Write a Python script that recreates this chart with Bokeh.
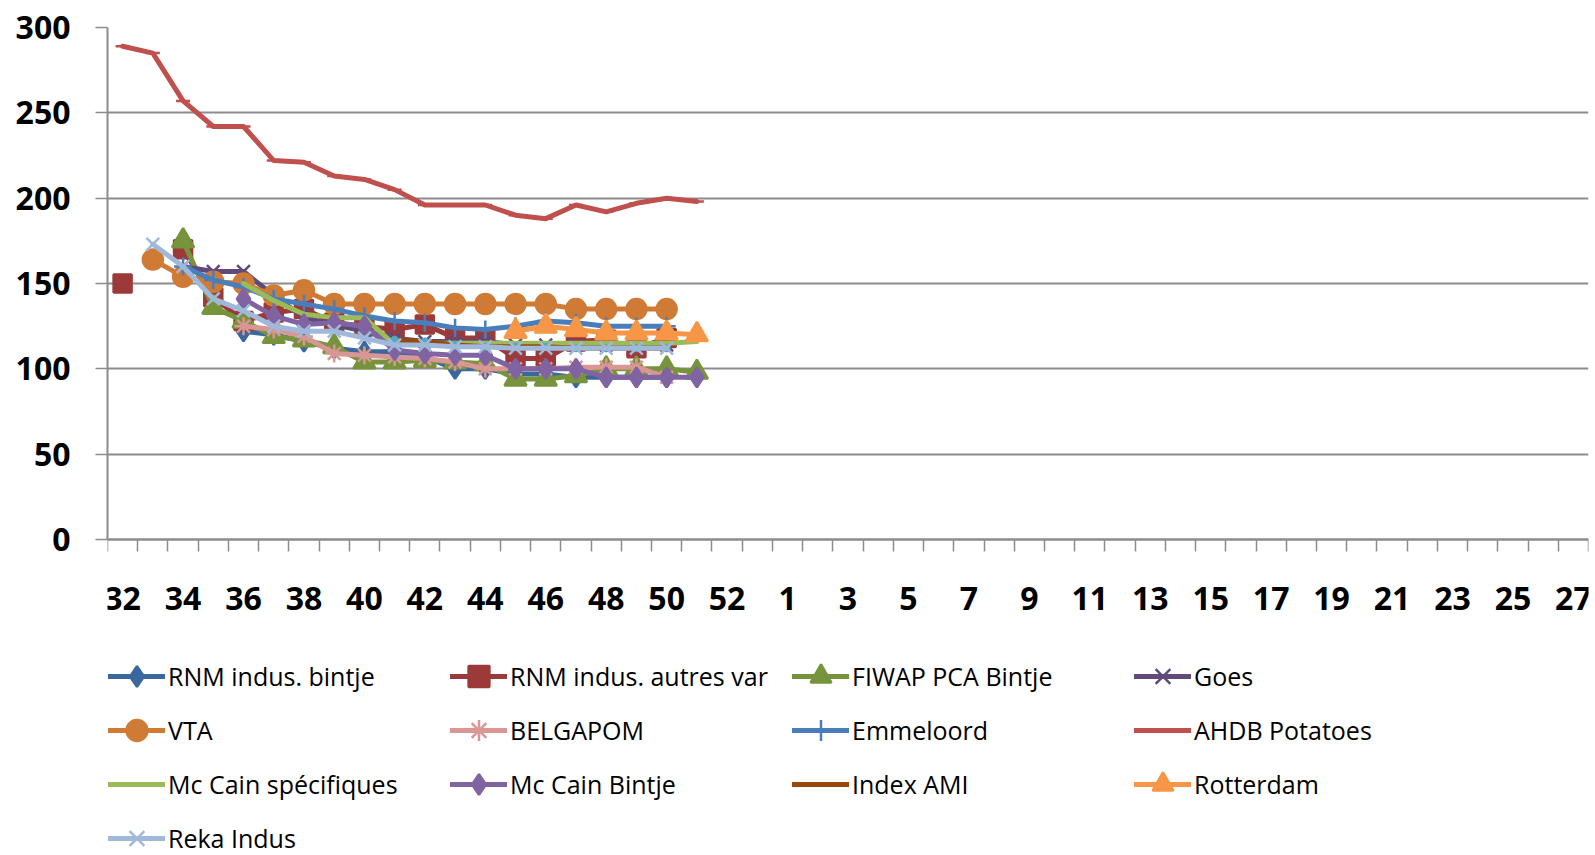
import math
from bokeh.plotting import figure
from bokeh.models import FixedTicker, Legend, LegendItem, Range1d
from bokeh.embed import file_html
from bokeh.resources import INLINE

nan = float("nan")

# ---- category axis (ISO weeks) ----
weeks = ["32", "33", "34", "35", "36", "37", "38", "39", "40", "41", "42", "43",
         "44", "45", "46", "47", "48", "49", "50", "51", "52", "53",
         "1", "2", "3", "4", "5", "6", "7", "8", "9", "10", "11", "12", "13",
         "14", "15", "16", "17", "18", "19", "20", "21", "22", "23", "24", "25",
         "26", "27"]
data_weeks = ["32", "33", "34", "35", "36", "37", "38", "39", "40", "41",
              "42", "43", "44", "45", "46", "47", "48", "49", "50", "51"]
y_ticks = [0, 50, 100, 150, 200, 250, 300]

# ---- series values (weeks 32..51) ----
rnm_bintje = [nan, nan, nan, nan, 122, 120, 116, 112, 110, 110, 107, 100, 100, 97, 97, 95, 95, 95, 95, nan]
rnm_autres = [150, nan, 170, 142, 128, 133, 135, 127, 125, 123, 126, 118, 118, 106, 106, 116, 117, 112, 118, nan]
fiwap = [nan, nan, 175, 136, 128, 119, 117, 113, 104, 104, 105, 104, 103, 94, 94, 96, 100, 100, 100, 98]
goes = [nan, nan, 160, 157, 157, 143, 130, 126, 122, 118, 116, 116, 116, 114, 114, 114, 114, 114, 114, nan]
vta = [nan, 164, 154, 151, 150, 143, 146, 138, 138, 138, 138, 138, 138, 138, 138, 135, 135, 135, 135, nan]
belgapom = [nan, nan, nan, nan, 125, 123, 119, 109, 108, 107, 106, 104, 100, 100, 100, 101, 101, 101, 95, nan]
emmeloord = [nan, nan, 160, 152, 148, 141, 138, 135, 131, 128, 127, 124, 123, 125, 128, 127, 125, 125, 125, nan]
ahdb = [289, 285, 257, 242, 242, 222, 221, 213, 211, 205, 196, 196, 196, 190, 188, 196, 192, 197, 200, 198]
mccain_spec = [nan, nan, nan, nan, 150, 140, 132, 130, 130, 114, 115, 115, 115, 115, 115, 115, 115, 115, 115, 116]
mccain_bintje = [nan, nan, nan, nan, 141, 131, 126, 127, 125, 111, 109, 108, 108, 100, 100, 100, 95, 95, 95, 95]
index_ami = [nan, nan, nan, nan, nan, nan, nan, nan, nan, 117, 116, 114, 113, 113, 113, 112, 112, 112, 112, nan]
rotterdam = [nan, nan, nan, nan, nan, nan, nan, nan, nan, nan, nan, nan, nan, 122, 125, 123, 121, 121, 121, 120]
reka = [nan, 173, 160, 141, 134, 125, 122, 122, 118, 114, 114, 113, 113, 112, 112, 112, 112, 112, 112, nan]

# name, values, line colour, marker, marker size, marker colour, marker in legend
series = [
    ("RNM indus. bintje", rnm_bintje, "#3B679F", "diamond", 20, "#3B679F", True),
    ("RNM indus. autres var", rnm_autres, "#9B3A38", "square", 18, "#9B3A38", True),
    ("FIWAP PCA Bintje", fiwap, "#77933C", "triangle", 22, "#77933C", True),
    ("Goes", goes, "#604A7B", "x", 18, "#604A7B", True),
    ("VTA", vta, "#CF7B36", "circle", 20, "#CF7B36", True),
    ("BELGAPOM", belgapom, "#D99694", "asterisk", 18, "#D99694", True),
    ("Emmeloord", emmeloord, "#4A7EBB", "cross", 18, "#4A7EBB", True),
    ("AHDB Potatoes", ahdb, "#C0504D", "dash", 14, "#C0504D", False),
    ("Mc Cain spécifiques", mccain_spec, "#9BBB59", None, 0, None, False),
    ("Mc Cain Bintje", mccain_bintje, "#8064A2", "diamond", 20, "#8064A2", True),
    ("Index AMI", index_ami, "#984807", "asterisk", 8, "#4BACC6", False),
    ("Rotterdam", rotterdam, "#F79646", "triangle", 22, "#F79646", True),
    ("Reka Indus", reka, "#A0B8DA", "x", 18, "#A0B8DA", True),
]

W, H = 1595, 855
left, top, frame_w = 107, 27, 1481
axis_y = 539                      # pixel row of value 0
px_per_unit = (axis_y - top) / 300.0
y_bottom = -(H - axis_y) / px_per_unit   # frame extends down to the canvas bottom

p = figure(width=W, height=H, output_backend="svg", toolbar_location=None,
           x_range=Range1d(-0.5, len(weeks) - 0.5), y_range=Range1d(y_bottom, 300),
           min_border_left=left, min_border_right=W - left - frame_w,
           min_border_top=top, min_border_bottom=0)
p.outline_line_color = None
p.background_fill_color = "white"
p.border_fill_color = "white"

xs = [weeks.index(w) for w in data_weeks]

items = []
for name, vals, color, marker, msize, mcolor, in_legend in series:
    rs = []
    r = p.line(xs, vals, line_color=color, line_width=5, line_join="round", line_cap="round")
    rs.append(r)
    if marker is not None:
        pts_x = [x for x, v in zip(xs, vals) if not math.isnan(v)]
        pts_y = [v for v in vals if not math.isnan(v)]
        s = p.scatter(pts_x, pts_y, marker=marker, size=msize, fill_color=mcolor,
                      line_color=mcolor, line_width=2.5)
        if in_legend:
            rs.append(s)
    items.append(LegendItem(label=name, renderers=rs))

# ---- axes ----
grey = "#8C8C8C"
label_pos = [i for i in range(0, len(weeks), 2)]
boundaries = [i - 0.5 for i in range(len(weeks) + 1)]
p.xaxis.fixed_location = 0
p.xaxis.ticker = FixedTicker(ticks=label_pos, minor_ticks=boundaries)
p.xaxis.major_label_overrides = {i: weeks[i] for i in label_pos}
p.xaxis.major_tick_out = 0
p.xaxis.major_tick_in = 0
p.xaxis.minor_tick_out = 12
p.xaxis.minor_tick_in = 0
p.xaxis.minor_tick_line_color = grey
p.xaxis.minor_tick_line_width = 1.5
p.xaxis.axis_line_color = grey
p.xaxis.axis_line_width = 2
p.xaxis.major_label_standoff = 35

p.yaxis.bounds = (0, 300)
p.yaxis.ticker = FixedTicker(ticks=y_ticks)
p.yaxis.major_tick_out = 12
p.yaxis.major_tick_in = 0
p.yaxis.minor_tick_out = 0
p.yaxis.minor_tick_in = 0
p.yaxis.major_tick_line_color = grey
p.yaxis.major_tick_line_width = 1.5
p.yaxis.axis_line_color = grey
p.yaxis.axis_line_width = 2
p.yaxis.major_label_standoff = 25

for ax in (p.xaxis, p.yaxis):
    ax.major_label_text_font = "Open Sans"
    ax.major_label_text_font_style = "bold"
    ax.major_label_text_font_size = "32px"
    ax.major_label_text_color = "black"

p.xgrid.visible = False
p.ygrid.ticker = FixedTicker(ticks=y_ticks)
p.ygrid.grid_line_color = grey
p.ygrid.grid_line_width = 2

legend = Legend(items=items, location=(1, -9), orientation="horizontal", ncols=4,
                glyph_width=57, glyph_height=52, label_height=52, label_width=280,
                label_standoff=3, spacing=2, padding=0, margin=0,
                border_line_color=None, background_fill_alpha=0,
                label_text_font="Open Sans", label_text_font_size="25px",
                label_text_color="black")
p.add_layout(legend)

open("out.html", "w").write(file_html(p, INLINE))
